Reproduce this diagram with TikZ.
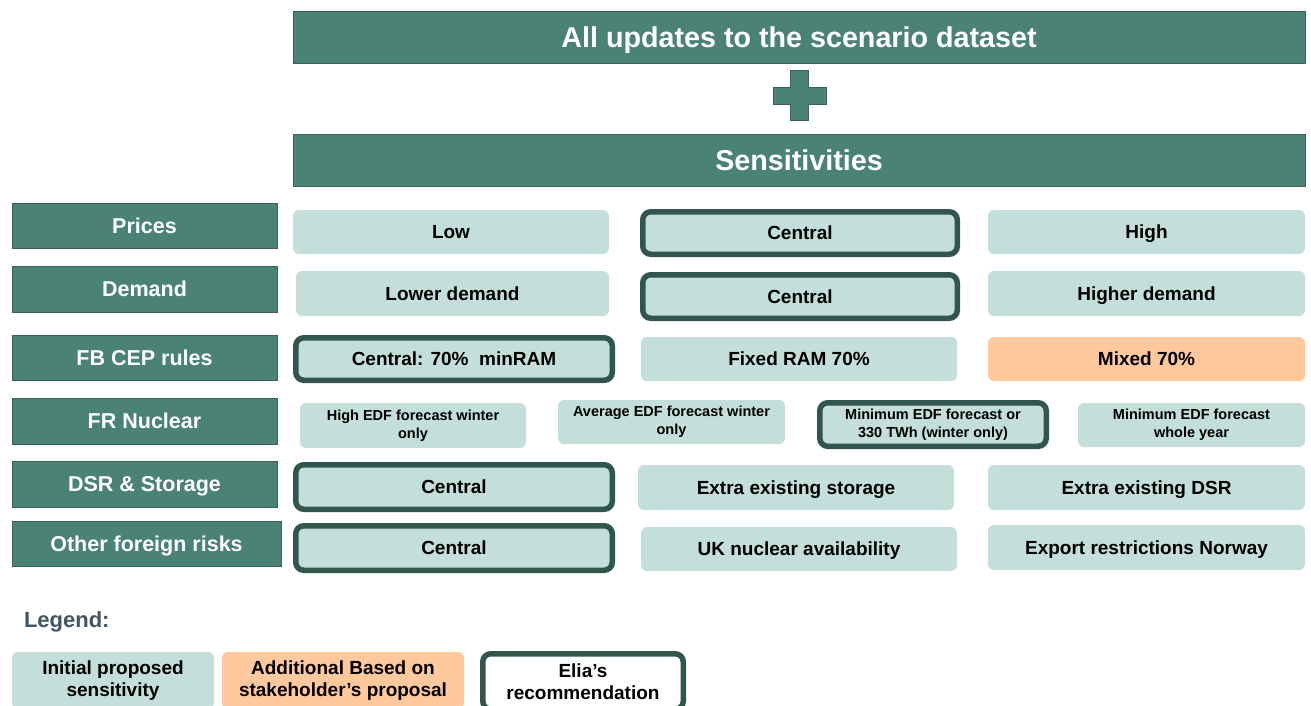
\documentclass[tikz,border=0pt]{standalone}
\usepackage{fontspec}
\setmainfont{Liberation Sans}
\definecolor{teal1}{HTML}{4A8276}
\definecolor{tealdark}{HTML}{3A6259}
\definecolor{recborder}{HTML}{32564E}
\definecolor{light}{HTML}{C4DFD9}
\definecolor{orange1}{HTML}{FFC99D}
\definecolor{legcol}{HTML}{435562}
\tikzset{
  base/.style={inner sep=0pt, outer sep=0pt, align=center},
  one/.style={text height=13.6pt, text depth=0pt},
  hdr/.style={base, text height=20.5pt, text depth=0pt, fill=teal1, draw=tealdark, line width=0.8pt, text=white,
    font=\fontsize{28.7}{32}\selectfont\bfseries},
  lab/.style={base, text height=15.4pt, text depth=0pt, fill=teal1, draw=tealdark, line width=0.8pt, text=white,
    font=\fontsize{21.5}{25}\selectfont\bfseries},
  opt/.style={base, fill=light, rounded corners=6pt,
    font=\fontsize{19}{22}\selectfont\bfseries},
  small/.style={font=\fontsize{14.5}{18}\selectfont\bfseries, yshift=-2pt},
  rec/.style={opt, draw=recborder, line width=5.5pt, rounded corners=8pt},
  add/.style={opt, fill=orange1},
  recw/.style={rec, fill=white},
  plusst/.style={fill=teal1, draw=tealdark, line width=0.8pt},
}
\newcommand\bx[7]{\node[#2, minimum width={(#5)-(#3)}, minimum height={(#6)-(#4)}]
  (#1) at ({((#3)+(#5))/2},{((#4)+(#6))/2}) {#7};}
\newcommand\rbx[7]{\bx{#1}{#2}{#3+2.75}{#4+2.75}{#5-2.75}{#6-2.75}{#7}}
\begin{document}
\begin{tikzpicture}[x=1pt,y=-1pt]
\useasboundingbox (0,0) rectangle (1311,705);
% headers
\bx{top}{hdr}{293}{11}{1305}{63}{All updates to the scenario dataset}
\draw[plusst] (790,70) -- (808,70) -- (808,87) -- (826,87) -- (826,104) -- (808,104)
  -- (808,120) -- (790,120) -- (790,104) -- (773,104) -- (773,87) -- (790,87) -- cycle;
\bx{sens}{hdr}{293}{134}{1305}{186}{Sensitivities}
% row labels
\bx{lpr}{lab}{12}{203}{277}{248}{Prices}
\bx{lde}{lab}{12}{266}{277}{312}{Demand}
\bx{lfb}{lab}{12}{335}{277}{380}{FB CEP rules}
\bx{lfr}{lab}{12}{398}{277}{444}{FR Nuclear}
\bx{lds}{lab}{12}{461}{277}{507}{DSR \& Storage}
\bx{lot}{lab}{12}{521}{281}{566}{Other foreign risks}
% row 1
\bx{pr1}{opt,one}{293}{210}{609}{254}{Low}
\rbx{pr2}{rec,one}{640}{209}{960}{257}{Central}
\bx{pr3}{opt,one}{988}{210}{1305}{254}{High}
% row 2
\bx{de1}{opt,one}{296}{271}{609}{316}{Lower demand}
\rbx{de2}{rec,one}{640}{272}{960}{321}{Central}
\bx{de3}{opt,one}{988}{271}{1305}{316}{Higher demand}
% row 3
\rbx{fb1}{rec,one}{293}{335}{615}{383}{Central: 70\%\ \ minRAM}
\bx{fb2}{opt,one}{641}{337}{957}{381}{Fixed RAM 70\%}
\bx{fb3}{add,one}{988}{337}{1305}{381}{Mixed 70\%}
% row 4
\bx{fr1}{opt,small}{300}{401}{526}{446}{High EDF forecast winter\\only}
\bx{fr2}{opt,small}{558}{398}{785}{442}{Average EDF forecast winter\\only}
\rbx{fr3}{rec,small}{817}{398}{1049}{447}{Minimum EDF forecast or\\330 TWh (winter only)}
\bx{fr4}{opt,small}{1078}{401}{1305}{445}{Minimum EDF forecast\\whole year}
% row 5
\rbx{ds1}{rec,one}{293}{462}{615}{512}{Central}
\bx{ds2}{opt,one}{638}{465}{954}{510}{Extra existing storage}
\bx{ds3}{opt,one}{988}{465}{1305}{510}{Extra existing DSR}
% row 6
\rbx{ot1}{rec,one}{293}{523}{615}{573}{Central}
\bx{ot2}{opt,one}{641}{527}{957}{571}{UK nuclear availability}
\bx{ot3}{opt,one}{988}{525}{1305}{570}{Export restrictions Norway}
% legend
\node[base, anchor=west, text=legcol, font=\fontsize{22}{26}\selectfont\bfseries] (leg) at (24,622) {Legend:};
\bx{lg1}{opt}{12}{652}{214}{709}{Initial proposed\\sensitivity}
\bx{lg2}{add}{222}{652}{464}{709}{Additional Based on\\stakeholder’s proposal}
\rbx{lg3}{recw}{480}{651}{686}{712}{Elia’s\\recommendation}
\end{tikzpicture}
\end{document}
